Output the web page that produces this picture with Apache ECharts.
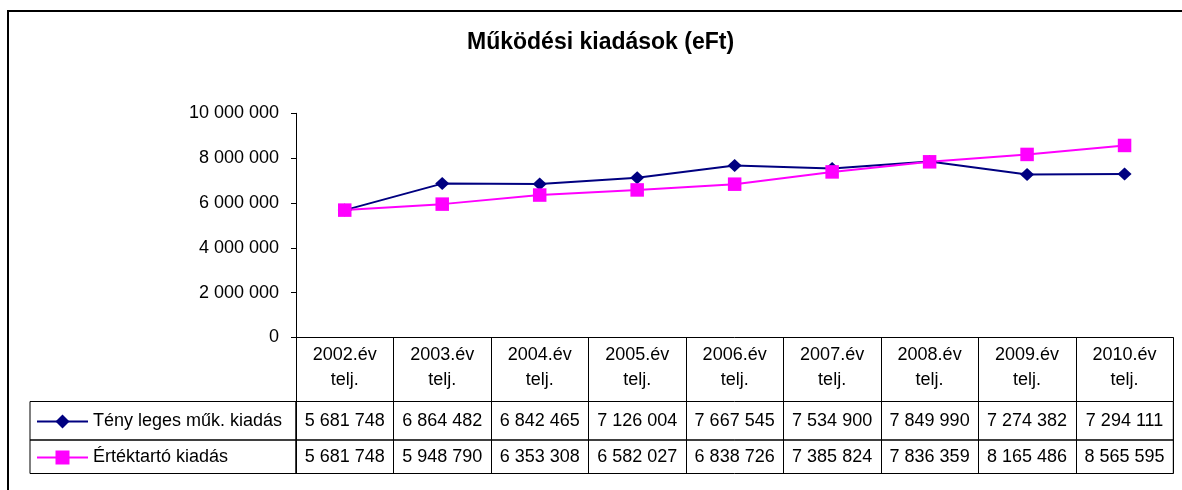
<!DOCTYPE html>
<html><head><meta charset="utf-8">
<script src="https://cdn.jsdelivr.net/npm/echarts@6/dist/echarts.min.js"></script>
<style>html,body{margin:0;padding:0;background:#fff}#c{width:1182px;height:490px}</style>
</head><body><div id="c"></div>
<script>
const chartTitle = 'Működési kiadások (eFt)';
const categoryLabels = ['2002.év\ntelj.','2003.év\ntelj.','2004.év\ntelj.','2005.év\ntelj.','2006.év\ntelj.','2007.év\ntelj.','2008.év\ntelj.','2009.év\ntelj.','2010.év\ntelj.'];
const seriesNames = ['Tény leges műk. kiadás', 'Értéktartó kiadás'];
const actualSpending = [5681748, 6864482, 6842465, 7126004, 7667545, 7534900, 7849990, 7274382, 7294111];
const valueKeepingSpending = [5681748, 5948790, 6353308, 6582027, 6838726, 7385824, 7836359, 8165486, 8565595];
const yMin = 0, yMax = 10000000, yInterval = 2000000;

const FONT = '"Liberation Sans", Arial, sans-serif';
const FS = 18;
function fmt(v){ return String(v).replace(/\B(?=(\d{3})+(?!\d))/g, ' '); }

const chart = echarts.init(document.getElementById('c'), null, {renderer:'canvas'});
const black = '#000';
const gridL = 296, gridR = 8.7;

function rowSeries(name, idx, vals){
  return {
    name: name, type: 'scatter', xAxisIndex: idx, yAxisIndex: idx, silent: true,
    symbolSize: 1, itemStyle: {color: 'rgba(0,0,0,0)'},
    data: vals.map((v,i)=>[i, 0.5, v]),
    label: {show: true, position: 'inside', formatter: p => fmt(p.value[2]),
      color: black, opacity: 1, textBorderWidth: 0, fontSize: FS, fontFamily: FONT},
    emphasis: {disabled: true}
  };
}

const option = {
  animation: false,
  backgroundColor: '#fff',
  textStyle: {fontFamily: FONT},
  title: {text: chartTitle, left: 462, top: 26, padding: [5,5,5,5],
    textStyle: {fontSize: 23, fontWeight: 'bold', color: black, fontFamily: FONT}},
  graphic: [{type: 'rect', silent: true, shape: {x: 8, y: 11, width: 1180, height: 490},
    style: {fill: 'none', stroke: black, lineWidth: 2}}],
  grid: [
    {left: gridL, right: gridR, top: 113.3, bottom: 152.5},
    {left: gridL, right: gridR, top: 401.5, height: 38.5, show: true, borderColor: black, borderWidth: 1, backgroundColor: 'transparent'},
    {left: gridL, right: gridR, top: 440, height: 33.5, show: true, borderColor: black, borderWidth: 1, backgroundColor: 'transparent'},
    {left: 30, width: 266, top: 401.5, height: 38.5, show: true, borderColor: black, borderWidth: 1, backgroundColor: 'transparent'},
    {left: 30, width: 266, top: 440, height: 33.5, show: true, borderColor: black, borderWidth: 1, backgroundColor: 'transparent'}
  ],
  legend: [
    {data: [seriesNames[0]], left: 36, top: 412.5, padding: 0, itemWidth: 51, itemHeight: 17.5, selectedMode: false,
      textStyle: {fontSize: FS, color: black, fontFamily: FONT}},
    {data: [seriesNames[1]], left: 36, top: 448.5, padding: 0, itemWidth: 51, itemHeight: 17.5, selectedMode: false,
      textStyle: {fontSize: FS, color: black, fontFamily: FONT}}
  ],
  xAxis: [
    {gridIndex: 0, type: 'category', data: categoryLabels, boundaryGap: true,
      axisLine: {lineStyle: {color: black, width: 1}},
      axisTick: {show: true, interval: 0, length: 64, lineStyle: {color: black, width: 1}},
      axisLabel: {interval: 0, color: black, fontSize: FS, fontFamily: FONT, lineHeight: 25, margin: 5},
      splitLine: {show: false}},
    {gridIndex: 1, type: 'category', data: categoryLabels, boundaryGap: true,
      axisLine: {show: false}, axisTick: {show: false}, axisLabel: {show: false},
      splitLine: {show: true, interval: 0, lineStyle: {color: black, width: 1}}},
    {gridIndex: 2, type: 'category', data: categoryLabels, boundaryGap: true,
      axisLine: {show: false}, axisTick: {show: false}, axisLabel: {show: false},
      splitLine: {show: true, interval: 0, lineStyle: {color: black, width: 1}}},
    {gridIndex: 3, type: 'category', data: ['a'], show: false},
    {gridIndex: 4, type: 'category', data: ['a'], show: false}
  ],
  yAxis: [
    {gridIndex: 0, type: 'value', min: yMin, max: yMax, interval: yInterval,
      axisLine: {show: true, lineStyle: {color: black, width: 1}},
      axisTick: {show: true, length: 5, lineStyle: {color: black}},
      axisLabel: {formatter: v => fmt(v), color: black, fontSize: FS, fontFamily: FONT, margin: 17},
      splitLine: {show: false}},
    {gridIndex: 1, type: 'value', min: 0, max: 1, show: false, splitLine: {show: false}},
    {gridIndex: 2, type: 'value', min: 0, max: 1, show: false, splitLine: {show: false}},
    {gridIndex: 3, type: 'value', show: false, splitLine: {show: false}},
    {gridIndex: 4, type: 'value', show: false, splitLine: {show: false}}
  ],
  series: [
    {name: seriesNames[0], type: 'line', xAxisIndex: 0, yAxisIndex: 0, data: actualSpending,
      symbol: 'diamond', symbolSize: [14, 13], color: '#000080',
      itemStyle: {color: '#000080'}, lineStyle: {color: '#000080', width: 2}},
    {name: seriesNames[1], type: 'line', xAxisIndex: 0, yAxisIndex: 0, data: valueKeepingSpending,
      symbol: 'rect', symbolSize: 13.5, color: '#ff00ff',
      itemStyle: {color: '#ff00ff'}, lineStyle: {color: '#ff00ff', width: 2}},
    rowSeries('row1', 1, actualSpending),
    rowSeries('row2', 2, valueKeepingSpending)
  ]
};
chart.setOption(option);
</script></body></html>
